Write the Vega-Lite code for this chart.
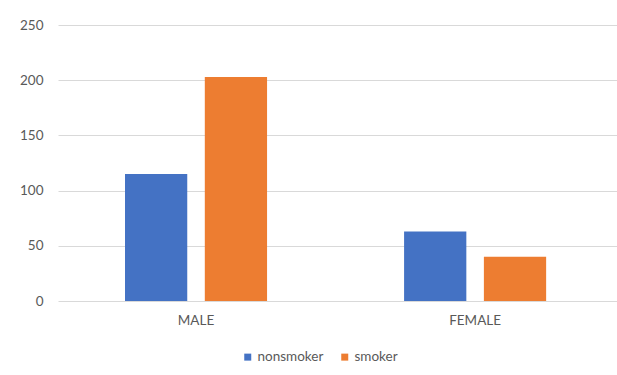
{
  "$schema": "https://vega.github.io/schema/vega-lite/v6.json",
  "width": 559,
  "height": 276,
  "autosize": {"type": "none"},
  "padding": {"left": 58, "top": 25, "right": 0, "bottom": 74},
  "background": "#ffffff",
  "data": {
    "values": [
      {"sex": "MALE", "status": "nonsmoker", "count": 115},
      {"sex": "MALE", "status": "smoker", "count": 203},
      {"sex": "FEMALE", "status": "nonsmoker", "count": 63},
      {"sex": "FEMALE", "status": "smoker", "count": 40}
    ]
  },
  "mark": {"type": "bar"},
  "encoding": {
    "x": {
      "field": "sex",
      "type": "nominal",
      "sort": ["MALE", "FEMALE"],
      "scale": {"paddingInner": 0.491, "paddingOuter": 0.247, "align": 0.486},
      "axis": {
        "title": null,
        "labelAngle": 0,
        "domain": false,
        "ticks": false,
        "labelPadding": 12,
        "labelFont": "Lato",
        "labelFontSize": 13.5,
        "labelColor": "#595959"
      }
    },
    "xOffset": {
      "field": "status",
      "type": "nominal",
      "sort": ["nonsmoker", "smoker"],
      "scale": {"paddingInner": 0.22, "paddingOuter": 0}
    },
    "y": {
      "field": "count",
      "type": "quantitative",
      "scale": {"domain": [0, 250], "nice": false},
      "axis": {
        "title": null,
        "values": [0, 50, 100, 150, 200, 250],
        "domain": false,
        "ticks": false,
        "labelPadding": 15,
        "labelFont": "Lato",
        "labelFontSize": 13.5,
        "labelColor": "#595959",
        "gridColor": "#d9d9d9",
        "gridWidth": 1
      }
    },
    "color": {
      "field": "status",
      "type": "nominal",
      "sort": ["nonsmoker", "smoker"],
      "scale": {"domain": ["nonsmoker", "smoker"], "range": ["#4472c4", "#ed7d31"]},
      "legend": {
        "title": null,
        "orient": "none",
        "direction": "horizontal",
        "legendX": 183,
        "legendY": 325,
        "symbolType": "square",
        "symbolSize": 49,
        "symbolStrokeWidth": 0,
        "labelFont": "Lato",
        "labelFontSize": 13.5,
        "labelColor": "#595959",
        "labelOffset": 3,
        "columnPadding": 14
      }
    }
  },
  "config": {
    "view": {"stroke": null}
  }
}
